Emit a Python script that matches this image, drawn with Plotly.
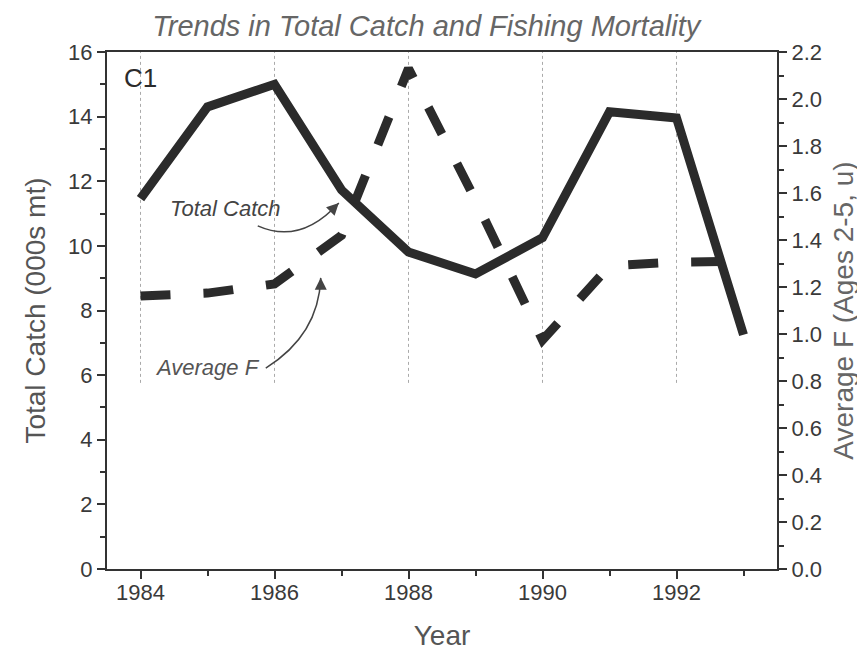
import plotly.graph_objects as go

years = [1984, 1985, 1986, 1987, 1988, 1989, 1990, 1991, 1992, 1993]
total_catch = [11.46, 14.3, 15.0, 11.73, 9.81, 9.13, 10.25, 14.15, 13.96, 7.25]
average_f = [1.162, 1.174, 1.213, 1.42, 2.13, 1.57, 0.974, 1.29, 1.306, 1.31]

x_ticks = [1984, 1986, 1988, 1990, 1992]
x_range = [1983.5, 1993.5]
y_left_range = [0, 16]
y_right_range = [0, 2.2]

title_text = "Trends in Total Catch and Fishing Mortality"
panel_label = "C1"

FONT = "Liberation Sans"
LINE_COLOR = "#2b2b2b"
TICK_COLOR = "#3a3a3a"
AXTITLE_COLOR = "#555555"

fig = go.Figure()
fig.add_trace(go.Scatter(x=years, y=total_catch, mode="lines", name="Total Catch",
                         line=dict(color=LINE_COLOR, width=9), yaxis="y"))
fig.add_trace(go.Scatter(x=years, y=average_f, mode="lines", name="Average F",
                         line=dict(color=LINE_COLOR, width=9, dash="30px,33px"), yaxis="y2"))

# partial dotted gridlines
for xv in x_ticks:
    fig.add_shape(type="line", xref="x", yref="paper", x0=xv, x1=xv, y0=0.36, y1=1,
                  line=dict(color="#aaaaaa", width=1, dash="dot"), layer="below")

# curved annotation arrows (Bezier paths in data coords)
fig.add_shape(type="path", xref="x", yref="y",
              path="M 1985.75,10.62 Q 1986.39,10.03 1986.96,11.33",
              line=dict(color="#444444", width=1.5))
fig.add_shape(type="path", xref="x", yref="y",
              path="M 1985.87,6.22 Q 1986.66,7.24 1986.69,9.01",
              line=dict(color="#444444", width=1.5))

fig.add_annotation(x=1986.96, y=11.33, xref="x", yref="y", ax=-9, ay=9, text="",
                   showarrow=True, arrowhead=2, arrowsize=1.6, arrowwidth=1.5,
                   arrowcolor="#444444")
fig.add_annotation(x=1986.69, y=9.01, xref="x", yref="y", ax=0, ay=13, text="",
                   showarrow=True, arrowhead=2, arrowsize=1.6, arrowwidth=1.5,
                   arrowcolor="#444444")

fig.add_annotation(x=1985.26, y=11.15, xref="x", yref="y", text="<i>Total Catch</i>",
                   showarrow=False, font=dict(family=FONT, size=22, color="#444444"))
fig.add_annotation(x=1985.0, y=6.25, xref="x", yref="y", text="<i>Average F</i>",
                   showarrow=False, font=dict(family=FONT, size=22, color="#555555"))

fig.add_annotation(x=0.022, y=0.95, xref="paper", yref="paper", text=panel_label,
                   xanchor="left", yanchor="middle", showarrow=False,
                   font=dict(family=FONT, size=26, color="#2b2b2b"))

axis_common = dict(
    ticks="outside", ticklen=8, tickwidth=1.5, tickcolor="#333",
    showline=True, linecolor="#333", linewidth=2,
    tickfont=dict(family=FONT, size=22, color=TICK_COLOR),
    showgrid=False, zeroline=False, automargin=False,
)

# page has an 8px body margin, so the figure is sized to fill the rest of the window
fig.update_layout(
    width=857, height=646,
    margin=dict(l=99, r=88, t=44, b=85),
    paper_bgcolor="white", plot_bgcolor="white",
    showlegend=False,
    title=dict(text="<i>" + title_text + "</i>", x=0.488, xanchor="center",
               y=0.973, yanchor="middle",
               font=dict(family=FONT, size=29, color="#666666")),
    xaxis=dict(range=x_range, tickvals=x_ticks, mirror=True, ticklabelstandoff=-5,
               minor=dict(dtick=1, ticks="outside", ticklen=5, tickcolor="#333"),
               title=dict(text="Year", font=dict(family=FONT, size=28, color=AXTITLE_COLOR),
                          standoff=21),
               **axis_common),
    yaxis=dict(range=y_left_range, dtick=2,
               minor=dict(dtick=1, ticks="outside", ticklen=5, tickcolor="#333"),
               title=dict(text="Total Catch (000s mt)",
                          font=dict(family=FONT, size=28, color=AXTITLE_COLOR), standoff=14),
               **axis_common),
    yaxis2=dict(range=y_right_range, dtick=0.2, tickformat=".1f", overlaying="y", side="right",
                minor=dict(dtick=0.1, ticks="outside", ticklen=5, tickcolor="#333"),
                title=dict(text="Average F (Ages 2-5, u)",
                           font=dict(family=FONT, size=28, color="#666666"), standoff=12),
                **axis_common),
)

fig.write_html("out.html")
